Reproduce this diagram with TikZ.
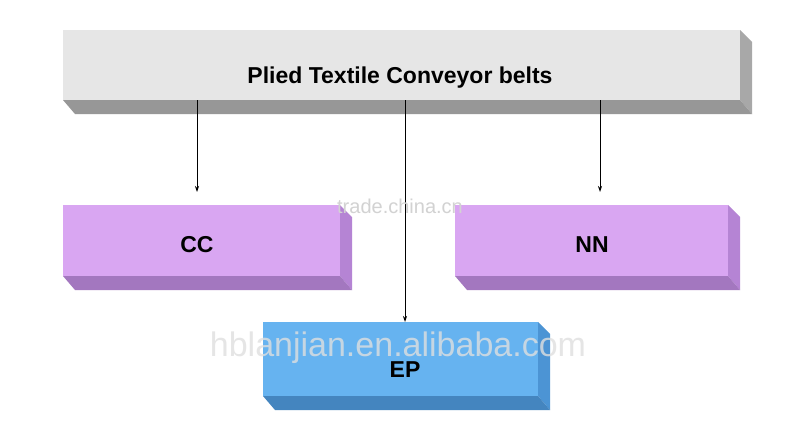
\documentclass[tikz,border=0pt]{standalone}
\usepackage{fontspec}
\setmainfont{Liberation Sans}
\usetikzlibrary{arrows.meta}
\definecolor{gfront}{HTML}{E6E6E6}
\definecolor{gside}{HTML}{A8A8A8}
\definecolor{pfront}{HTML}{D9A6F2}
\definecolor{pside}{HTML}{B584D4}
\definecolor{bfront}{HTML}{66B3F0}
\definecolor{bside}{HTML}{4C94D4}
\tikzset{lbl/.style={font=\fontsize{23}{27}\selectfont\bfseries},
 conn/.style={draw=black,line width=0.8pt,-{Stealth[length=6pt,width=4pt]}},
 wm/.style={text=gray!35}}
\newcommand{\bbox}[7]{% x1 y1 x2 y2 front side name
 \fill[#6] (#3,#2) -- (#3+12,#2+12) -- (#3+12,#4+14) -- (#3,#4) -- cycle;
 \fill[#6!90!black] (#1,#4) -- (#3,#4) -- (#3+12,#4+14) -- (#1+12,#4+14) -- cycle;
 \fill[#5] (#1,#2) rectangle (#3,#4);
 \coordinate (#7) at ({(#1+#3)/2},{(#2+#4)/2});
}
\begin{document}
\begin{tikzpicture}[x=1pt,y=-1pt]
\useasboundingbox (0,0) rectangle (800,429);
\fill[white] (0,0) rectangle (800,429);
\bbox{63}{30}{740}{100}{gfront}{gside}{top}
\bbox{63}{205}{340}{276}{pfront}{pside}{cc}
\bbox{455}{205}{728}{276}{pfront}{pside}{nn}
\bbox{263}{322}{538}{396}{bfront}{bside}{ep}
\node[lbl] (tl) at (400,78) {Plied Textile Conveyor belts};
\node[lbl] (ccl) at (197,245) {CC};
\node[lbl] (nnl) at (592,245) {NN};
\node[lbl] (epl) at (405,370) {EP};
\coordinate (s1) at (197,100); \coordinate (e1) at (197,192);
\coordinate (s2) at (600,100); \coordinate (e2) at (600,192);
\coordinate (s3) at (405,100); \coordinate (e3) at (405,322);
\draw[conn] (s1) -- (e1);
\draw[conn] (s2) -- (e2);
\draw[conn] (s3) -- (e3);
\node[wm,font=\fontsize{20}{24}\selectfont] (w1) at (400,206) {trade.china.cn};
\node[font=\fontsize{34}{38}\selectfont,text=gray!25,opacity=0.8] (w2) at (398,348) {hblanjian.en.alibaba.com};
\end{tikzpicture}
\end{document}
